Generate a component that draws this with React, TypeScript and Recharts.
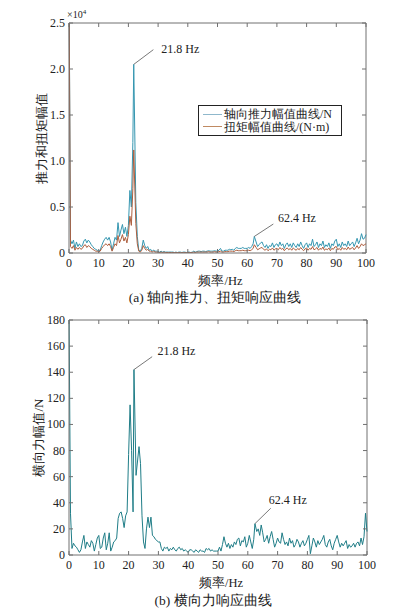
import React from 'react';
import { LineChart, Line, XAxis, YAxis, ReferenceLine, ReferenceDot, Legend, Label } from 'recharts';

const FREQ = [
  0, 0.5, 1, 1.5, 2, 2.5, 3, 3.5, 4, 4.5,
  5, 5.5, 6, 6.5, 7, 7.5, 8, 8.5, 9, 9.5,
  10, 10.5, 11, 11.5, 12, 12.5, 13, 13.5, 14, 14.5,
  15, 15.5, 16, 16.5, 17, 17.5, 18, 18.5, 19, 19.5,
  20, 20.5, 21, 21.5, 21.8, 22.5, 23, 23.5, 24, 24.5,
  25, 25.5, 26, 26.5, 27, 27.5, 28, 28.5, 29, 29.5,
  30, 30.5, 31, 31.5, 32, 32.5, 33, 33.5, 34, 34.5,
  35, 35.5, 36, 36.5, 37, 37.5, 38, 38.5, 39, 39.5,
  40, 40.5, 41, 41.5, 42, 42.5, 43, 43.5, 44, 44.5,
  45, 45.5, 46, 46.5, 47, 47.5, 48, 48.5, 49, 49.5,
  50, 50.5, 51, 51.5, 52, 52.5, 53, 53.5, 54, 54.5,
  55, 55.5, 56, 56.5, 57, 57.5, 58, 58.5, 59, 59.5,
  60, 60.5, 61, 61.5, 62, 62.4, 63, 63.5, 64, 64.5,
  65, 65.5, 66, 66.5, 67, 67.5, 68, 68.5, 69, 69.5,
  70, 70.5, 71, 71.5, 72, 72.5, 73, 73.5, 74, 74.5,
  75, 75.5, 76, 76.5, 77, 77.5, 78, 78.5, 79, 79.5,
  80, 80.5, 81, 81.5, 82, 82.5, 83, 83.5, 84, 84.5,
  85, 85.5, 86, 86.5, 87, 87.5, 88, 88.5, 89, 89.5,
  90, 90.5, 91, 91.5, 92, 92.5, 93, 93.5, 94, 94.5,
  95, 95.5, 96, 96.5, 97, 97.5, 98, 98.5, 99, 99.5,
  100,
];

// axial thrust amplitude (x10^4 N)
const THRUST = [
  3.0, 0.14, 0.10, 0.14, 0.05, 0.12, 0.07, 0.10, 0.07, 0.08,
  0.13, 0.15, 0.11, 0.14, 0.12, 0.09, 0.07, 0.05, 0.04, 0.03,
  0.02, 0.03, 0.08, 0.12, 0.15, 0.17, 0.14, 0.17, 0.12, 0.03,
  0.10, 0.17, 0.14, 0.33, 0.18, 0.25, 0.31, 0.21, 0.28, 0.18,
  0.30, 0.68, 0.50, 1.20, 2.05, 0.55, 0.18, 0.03, 0.02, 0.05,
  0.14, 0.08, 0.05, 0.07, 0.03, 0.04, 0.02, 0.03, 0.02, 0.02,
  0.02, 0.01, 0.02, 0.01, 0.015, 0.01, 0.01, 0.01, 0.01, 0.01,
  0.01, 0.005, 0.01, 0.005, 0.01, 0.01, 0.005, 0.01, 0.01, 0.005,
  0.01, 0.01, 0.005, 0.01, 0.02, 0.01, 0.015, 0.02, 0.02, 0.015,
  0.02, 0.02, 0.015, 0.02, 0.025, 0.02, 0.02, 0.02, 0.025, 0.02,
  0.02, 0.03, 0.05, 0.02, 0.02, 0.03, 0.03, 0.03, 0.04, 0.035,
  0.04, 0.03, 0.05, 0.06, 0.05, 0.05, 0.05, 0.06, 0.05, 0.05,
  0.05, 0.06, 0.05, 0.07, 0.10, 0.18, 0.12, 0.07, 0.09, 0.11,
  0.12, 0.08, 0.06, 0.09, 0.05, 0.08, 0.07, 0.11, 0.06, 0.09,
  0.10, 0.07, 0.12, 0.08, 0.10, 0.05, 0.09, 0.11, 0.07, 0.10,
  0.06, 0.11, 0.08, 0.06, 0.10, 0.07, 0.12, 0.08, 0.05, 0.09,
  0.11, 0.06, 0.10, 0.08, 0.15, 0.07, 0.09, 0.12, 0.06, 0.10,
  0.08, 0.13, 0.06, 0.09, 0.07, 0.11, 0.05, 0.10, 0.08, 0.13,
  0.15, 0.07, 0.10, 0.06, 0.12, 0.08, 0.10, 0.07, 0.13, 0.08,
  0.10, 0.12, 0.07, 0.11, 0.16, 0.10, 0.14, 0.21, 0.15, 0.16,
  0.20,
];

// torque amplitude
const TORQUE = [
  3.0, 0.07, 0.05, 0.08, 0.03, 0.06, 0.04, 0.06, 0.04, 0.05,
  0.08, 0.09, 0.06, 0.08, 0.07, 0.05, 0.04, 0.03, 0.02, 0.02,
  0.01, 0.02, 0.05, 0.07, 0.09, 0.10, 0.08, 0.10, 0.07, 0.02,
  0.06, 0.10, 0.08, 0.19, 0.11, 0.15, 0.20, 0.13, 0.17, 0.11,
  0.20, 0.40, 0.30, 0.70, 1.12, 0.32, 0.10, 0.02, 0.01, 0.03,
  0.08, 0.05, 0.03, 0.04, 0.02, 0.02, 0.01, 0.02, 0.01, 0.01,
  0.01, 0.005, 0.01, 0.005, 0.01, 0.005, 0.005, 0.005, 0.005, 0.005,
  0.005, 0.003, 0.005, 0.003, 0.005, 0.005, 0.003, 0.005, 0.005, 0.003,
  0.005, 0.005, 0.005, 0.005, 0.01, 0.005, 0.01, 0.01, 0.01, 0.01,
  0.01, 0.01, 0.01, 0.01, 0.015, 0.01, 0.01, 0.01, 0.015, 0.01,
  0.01, 0.015, 0.02, 0.01, 0.01, 0.015, 0.015, 0.015, 0.02, 0.02,
  0.02, 0.015, 0.025, 0.03, 0.025, 0.025, 0.025, 0.03, 0.025, 0.025,
  0.025, 0.03, 0.025, 0.035, 0.05, 0.09, 0.06, 0.035, 0.045, 0.055,
  0.06, 0.04, 0.03, 0.045, 0.025, 0.04, 0.035, 0.055, 0.03, 0.045,
  0.05, 0.035, 0.06, 0.04, 0.05, 0.025, 0.045, 0.055, 0.035, 0.05,
  0.03, 0.055, 0.04, 0.03, 0.05, 0.035, 0.06, 0.04, 0.025, 0.045,
  0.055, 0.03, 0.05, 0.04, 0.07, 0.035, 0.045, 0.06, 0.03, 0.05,
  0.04, 0.065, 0.03, 0.045, 0.035, 0.055, 0.025, 0.05, 0.04, 0.065,
  0.07, 0.035, 0.05, 0.03, 0.06, 0.04, 0.05, 0.035, 0.065, 0.04,
  0.05, 0.06, 0.035, 0.055, 0.08, 0.05, 0.07, 0.10, 0.08, 0.09,
  0.10,
];

// lateral force amplitude (N)
const LATERAL = [
  190, 32, 5, 9, 7, 6, 4, 2, 4, 10,
  15, 5, 10, 8, 6, 11, 9, 3, 8, 13,
  15, 5, 6, 13, 17, 4, 9, 17, 3, 6,
  10, 11, 13, 28, 32, 33, 28, 21, 30, 33,
  77, 115, 80, 33, 142, 61, 72, 83, 70, 30,
  10, 5, 20, 29, 21, 29, 15, 14, 12, 11,
  10, 10, 5, 3, 6, 5, 6, 3, 5, 4,
  6, 4, 3, 5, 6, 4, 5, 3, 4, 3,
  2, 4, 4, 3, 2, 4, 3, 2, 4, 3,
  3, 2, 5, 4, 5, 3, 4, 3, 3, 3,
  3, 6, 3, 8, 14, 9, 6, 9, 5, 8,
  6, 10, 8, 12, 13, 7, 11, 10, 14, 6,
  9, 15, 10, 5, 12, 24, 18, 20, 15, 23,
  17, 10, 12, 15, 9, 14, 18, 12, 6, 9,
  13, 10, 9, 17, 12, 8, 10, 7, 13, 9,
  11, 6, 8, 12, 10, 6, 9, 11, 7, 9,
  12, 15, 1, 7, 13, 10, 6, 11, 8, 10,
  12, 15, 8, 6, 10, 12, 7, 4, 9, 12,
  15, 10, 6, 9, 7, 9, 11, 5, 8, 6,
  7, 9, 6, 9, 10, 7, 13, 8, 14, 32,
  18,
];

const X_TICKS = [0, 10, 20, 30, 40, 50, 60, 70, 80, 90, 100];
const Y_TICKS_A = [0, 0.5, 1, 1.5, 2, 2.5];
const Y_TICKS_B = [0, 20, 40, 60, 80, 100, 120, 140, 160, 180];

const rowsA = FREQ.map((f, i) => ({ f, t: THRUST[i], q: TORQUE[i] }));
const rowsB = FREQ.map((f, i) => ({ f, l: LATERAL[i] }));

const SERIF = "'Liberation Serif', 'Times New Roman', serif";
const AXIS = '#707070';
const C_THRUST = '#3596b0';
const C_TORQUE = '#ad5e3e';
const C_LATERAL = '#1f7d87';

const xTick = (plotTop: number) => (p: any) => {
  const { x, y, payload } = p;
  return (
    <g>
      <line x1={x} y1={y} x2={x} y2={y - 4} stroke={AXIS} strokeWidth={1} />
      <line x1={x} y1={plotTop} x2={x} y2={plotTop + 4} stroke={AXIS} strokeWidth={1} />
      <text x={x} y={y + 14} textAnchor="middle" fontSize={12} fontFamily={SERIF} fill="#222">
        {payload.value}
      </text>
    </g>
  );
};

const yTick = (plotRight: number, fmt: (v: number) => string) => (p: any) => {
  const { x, y, payload } = p;
  return (
    <g>
      <line x1={x} y1={y} x2={x + 4} y2={y} stroke={AXIS} strokeWidth={1} />
      <line x1={plotRight - 4} y1={y} x2={plotRight} y2={y} stroke={AXIS} strokeWidth={1} />
      <text x={x - 4} y={y + 4} textAnchor="end" fontSize={12} fontFamily={SERIF} fill="#222">
        {fmt(payload.value)}
      </text>
    </g>
  );
};

const xLabel = (p: any) => {
  const vb = p.viewBox;
  return (
    <text x={vb.x + vb.width / 2 + 3} y={vb.y + 32} textAnchor="middle" fontSize={12.5} fontFamily={SERIF} fill="#222">
      频率/Hz
    </text>
  );
};

const yLabel = (text: string, cx: number) => (p: any) => {
  const vb = p.viewBox;
  const cy = vb.y + vb.height / 2;
  return (
    <text x={cx} y={cy} transform={`rotate(-90 ${cx} ${cy})`} textAnchor="middle" dominantBaseline="central"
      fontSize={13} fontFamily={SERIF} fill="#222">
      {text}
    </text>
  );
};

const annText = (text: string, dx: number, dy: number) => (p: any) => {
  const vb = p.viewBox;
  return (
    <text x={vb.x + dx} y={vb.y + dy} fontSize={12} fontFamily={SERIF} fill="#222">
      {text}
    </text>
  );
};

const LegendBox = () => (
  <div style={{
    border: '1px solid #222', background: '#fff', width: 144, height: 31, boxSizing: 'border-box',
    padding: '2px 4px', fontFamily: SERIF, fontSize: 12, lineHeight: '12.5px', color: '#222',
  }}>
    <div style={{ display: 'flex', alignItems: 'center', whiteSpace: 'nowrap' }}>
      <span style={{ display: 'inline-block', width: 19, borderTop: '1px solid #8fb8cc', marginRight: 2 }} />
      轴向推力幅值曲线/N
    </div>
    <div style={{ display: 'flex', alignItems: 'center', whiteSpace: 'nowrap' }}>
      <span style={{ display: 'inline-block', width: 19, borderTop: '1px solid #c08a62', marginRight: 2 }} />
      扭矩幅值曲线/(N·m)
    </div>
  </div>
);

const fmtA = (v: number) => (v === 0 ? '0' : v.toFixed(1));
const fmtB = (v: number) => String(v);

export default function App() {
  return (
    <div style={{ position: 'absolute', left: 0, top: 0, width: 395, height: 613, background: '#fff' }}>
      <div style={{ position: 'absolute', left: 0, top: 0 }}>
        <LineChart width={395} height={300} data={rowsA} margin={{ top: 23, right: 29, bottom: 17, left: 39 }}>
          <XAxis dataKey="f" type="number" domain={[0, 100]} ticks={X_TICKS} interval={0}
            tickLine={false} tickSize={0} tickMargin={0} height={30}
            axisLine={{ stroke: AXIS }} tick={xTick(23)}>
            <Label content={xLabel} />
          </XAxis>
          <YAxis type="number" domain={[0, 2.5]} ticks={Y_TICKS_A} interval={0} allowDataOverflow
            tickLine={false} tickSize={0} tickMargin={0} width={30}
            axisLine={{ stroke: AXIS }} tick={yTick(366, fmtA)}>
            <Label content={yLabel('推力和扭矩幅值', 41)} />
          </YAxis>
          <ReferenceLine y={2.5} stroke={AXIS} strokeWidth={1} />
          <ReferenceLine x={100} stroke={AXIS} strokeWidth={1} />
          <Line dataKey="t" type="linear" stroke={C_THRUST} strokeWidth={1} dot={false} isAnimationActive={false} />
          <Line dataKey="q" type="linear" stroke={C_TORQUE} strokeWidth={1} dot={false} isAnimationActive={false} />
          <ReferenceLine segment={[{ x: 21.8, y: 2.05 }, { x: 28.4, y: 2.21 }]} stroke="#555" strokeWidth={0.8} />
          <ReferenceDot x={28.4} y={2.21} r={0} fill="none" stroke="none">
            <Label content={annText('21.8 Hz', 8, 3.5)} />
          </ReferenceDot>
          <ReferenceLine segment={[{ x: 62.4, y: 0.18 }, { x: 68.8, y: 0.315 }]} stroke="#555" strokeWidth={0.8} />
          <ReferenceDot x={68.8} y={0.315} r={0} fill="none" stroke="none">
            <Label content={annText('62.4 Hz', 4.6, -1.7)} />
          </ReferenceDot>
          <Legend layout="vertical" align="center" verticalAlign="middle"
            wrapperStyle={{ position: 'absolute', left: 198, top: 105, width: 144, height: 31 }}
            content={() => <LegendBox />} />
        </LineChart>
      </div>
      <div style={{ position: 'absolute', left: 67, top: 10, fontFamily: SERIF, fontSize: 10, lineHeight: '10px', color: '#222' }}>
        ×10<sup style={{ fontSize: 7, verticalAlign: 'top', position: 'relative', top: -3 }}>4</sup>
      </div>
      <div style={{ position: 'absolute', left: 20, top: 289, width: 390, textAlign: 'center', fontFamily: SERIF, fontSize: 13.5, lineHeight: '18px', color: '#222' }}>
        (a) 轴向推力、扭矩响应曲线
      </div>

      <div style={{ position: 'absolute', left: 0, top: 300 }}>
        <LineChart width={395} height={313} data={rowsB} margin={{ top: 20, right: 28, bottom: 28, left: 39 }}>
          <XAxis dataKey="f" type="number" domain={[0, 100]} ticks={X_TICKS} interval={0}
            tickLine={false} tickSize={0} tickMargin={0} height={30}
            axisLine={{ stroke: AXIS }} tick={xTick(20)}>
            <Label content={xLabel} />
          </XAxis>
          <YAxis type="number" domain={[0, 180]} ticks={Y_TICKS_B} interval={0} allowDataOverflow
            tickLine={false} tickSize={0} tickMargin={0} width={30}
            axisLine={{ stroke: AXIS }} tick={yTick(367, fmtB)}>
            <Label content={yLabel('横向力幅值/N', 38)} />
          </YAxis>
          <ReferenceLine y={180} stroke={AXIS} strokeWidth={1} />
          <ReferenceLine x={100} stroke={AXIS} strokeWidth={1} />
          <Line dataKey="l" type="linear" stroke={C_LATERAL} strokeWidth={1} dot={false} isAnimationActive={false} />
          <ReferenceLine segment={[{ x: 21.8, y: 142 }, { x: 27.9, y: 151.9 }]} stroke="#555" strokeWidth={0.8} />
          <ReferenceDot x={27.9} y={151.9} r={0} fill="none" stroke="none">
            <Label content={annText('21.8 Hz', 5.3, -1.4)} />
          </ReferenceDot>
          <ReferenceLine segment={[{ x: 62.4, y: 24 }, { x: 67.7, y: 35.8 }]} stroke="#555" strokeWidth={0.8} />
          <ReferenceDot x={67.7} y={35.8} r={0} fill="none" stroke="none">
            <Label content={annText('62.4 Hz', -2, -4.3)} />
          </ReferenceDot>
        </LineChart>
      </div>
      <div style={{ position: 'absolute', left: 16, top: 592, width: 394, textAlign: 'center', fontFamily: SERIF, fontSize: 13.5, lineHeight: '18px', color: '#222' }}>
        (b) 横向力响应曲线
      </div>
    </div>
  );
}
